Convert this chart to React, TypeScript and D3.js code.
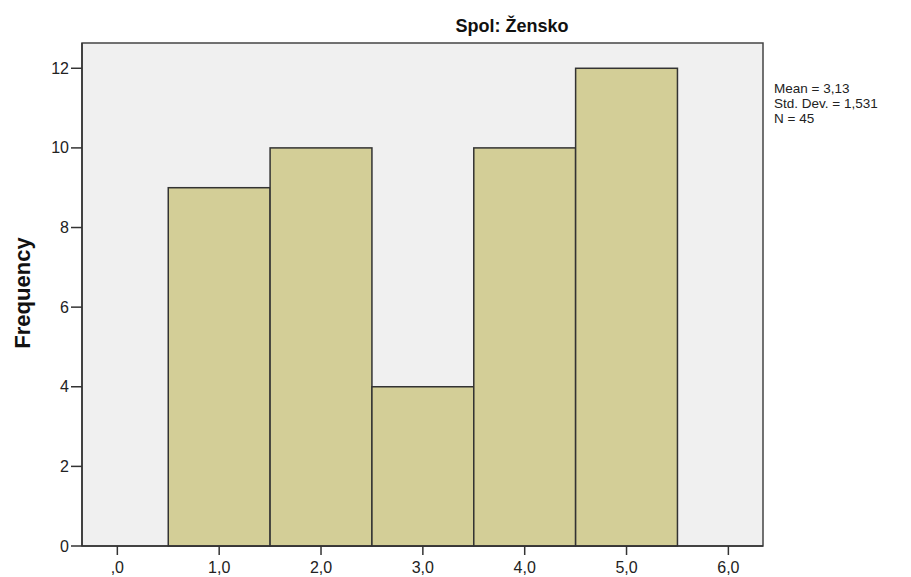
import React from "react";
import * as d3 from "d3";

const binStarts: number[] = [0.5, 1.5, 2.5, 3.5, 4.5];
const binWidth = 1;
const frequencies: number[] = [9, 10, 4, 10, 12];
const xTicks: number[] = [0, 1, 2, 3, 4, 5, 6];
const yTicks: number[] = [0, 2, 4, 6, 8, 10, 12];
const statsLines: string[] = ["Mean = 3,13", "Std. Dev. = 1,531", "N = 45"];
const title = "Spol: Žensko";
const yLabel = "Frequency";

const W = 911;
const H = 577;
const FONT = "'Liberation Sans', Arial, sans-serif";

export default function App() {
  const left = 82, right = 763, top = 43, bottom = 546;
  const x = d3.scaleLinear().domain([-0.347, 6.34]).range([left, right]);
  const y = d3.scaleLinear().domain([0, 12.635]).range([bottom, top]);
  const fmtX = (v: number) => (v === 0 ? ",0" : d3.format(".1f")(v).replace(".", ","));

  return (
    <svg width={W} height={H} style={{ position: "absolute", left: 0, top: 0, background: "#fff" }}>
      <rect x={left} y={top} width={right - left} height={bottom - top} fill="#F0F0F0" stroke="#444" strokeWidth={1.5} />
      {binStarts.map((b, i) => (
        <rect
          key={i}
          x={x(b)}
          y={y(frequencies[i])}
          width={x(b + binWidth) - x(b)}
          height={y(0) - y(frequencies[i])}
          fill="#D3CE97"
          stroke="#333"
          strokeWidth={1.5}
        />
      ))}
      <line x1={left} x2={left} y1={top} y2={bottom} stroke="#333" strokeWidth={1.5} />
      <line x1={left} x2={right} y1={bottom} y2={bottom} stroke="#333" strokeWidth={1.5} />
      {yTicks.map((t) => (
        <g key={t}>
          <line x1={71} x2={left} y1={y(t)} y2={y(t)} stroke="#333" strokeWidth={1.5} />
          <text x={69} y={y(t)} dy="0.35em" textAnchor="end" fontFamily={FONT} fontSize={16} fill="#222">
            {t}
          </text>
        </g>
      ))}
      {xTicks.map((t) => (
        <g key={t}>
          <line x1={x(t)} x2={x(t)} y1={bottom} y2={bottom + 9} stroke="#333" strokeWidth={1.5} />
          <text x={x(t)} y={573} textAnchor="middle" fontFamily={FONT} fontSize={16} fill="#222">
            {fmtX(t)}
          </text>
        </g>
      ))}
      <text x={512} y={32} textAnchor="middle" fontFamily={FONT} fontSize={18} fontWeight="bold" fill="#111">
        {title}
      </text>
      <text
        transform={`translate(30, 293) rotate(-90)`}
        textAnchor="middle"
        fontFamily={FONT}
        fontSize={22}
        fontWeight="bold"
        fill="#111"
      >
        {yLabel}
      </text>
      {statsLines.map((s, i) => (
        <text key={i} x={774} y={93 + i * 15} fontFamily={FONT} fontSize={13.5} fill="#222">
          {s}
        </text>
      ))}
    </svg>
  );
}
